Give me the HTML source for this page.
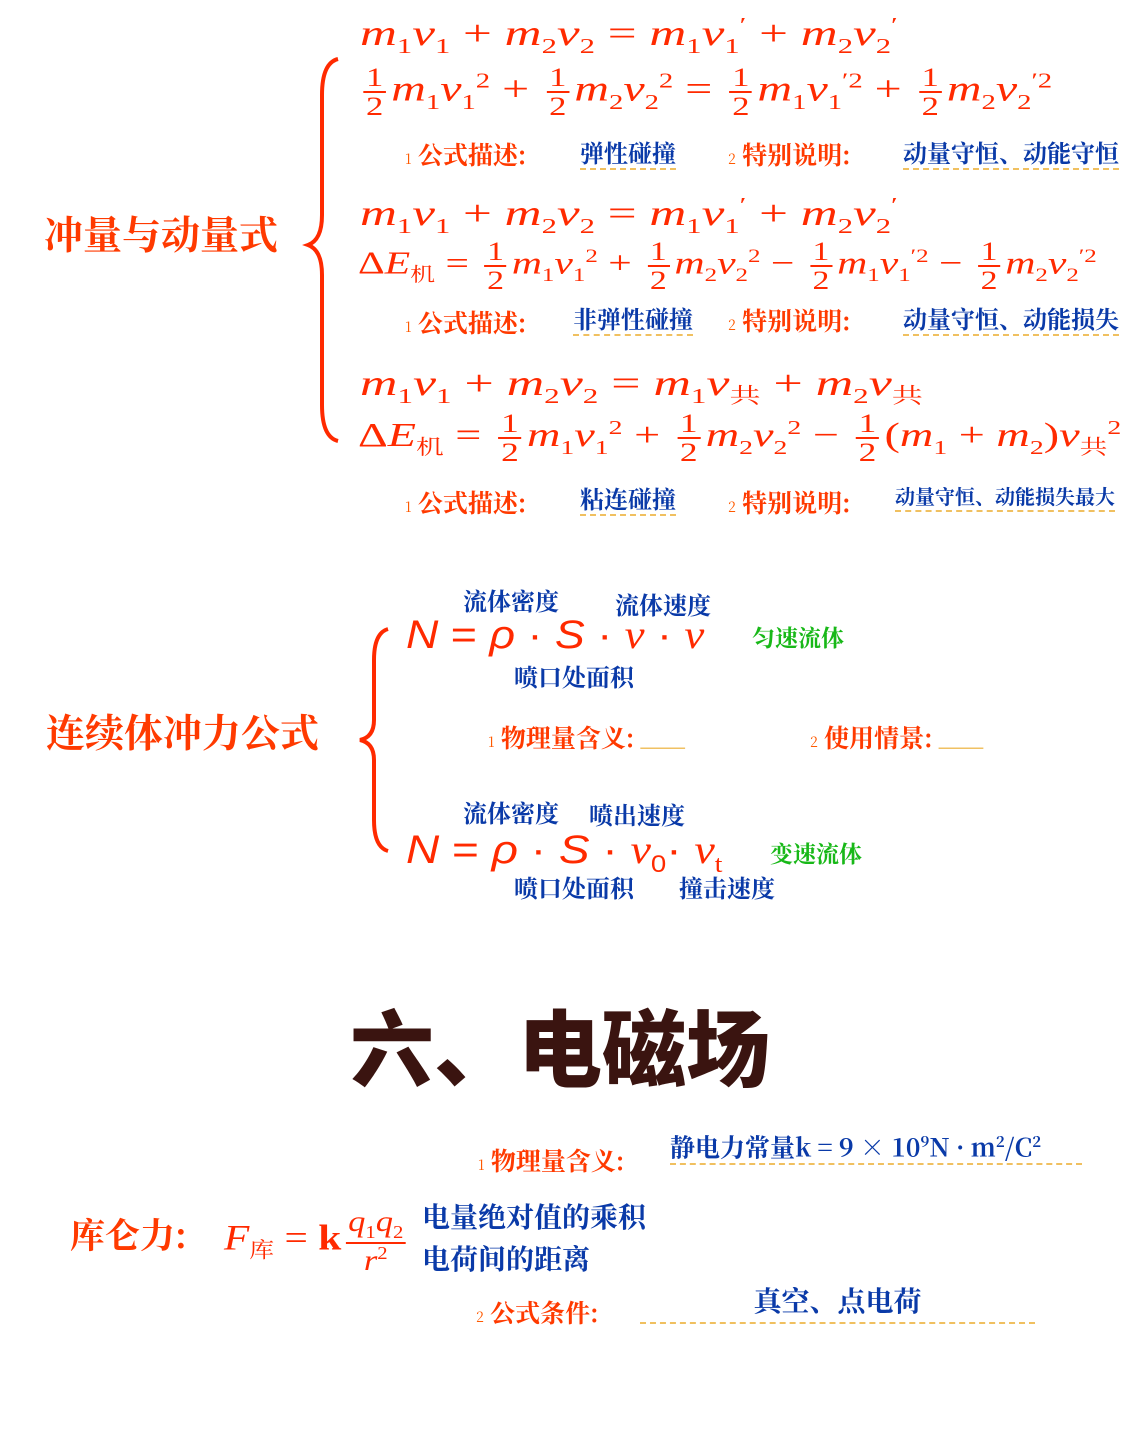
<!DOCTYPE html>
<html><head><meta charset="utf-8"><style>
body{margin:0;width:1144px;height:1431px;background:#fff;position:relative;overflow:hidden;font-family:"Liberation Serif","Noto Serif CJK SC",serif}
.a{position:absolute;white-space:nowrap;line-height:1}
.m{color:#ff2a00;font-family:"Liberation Serif","Noto Serif CJK SC",serif;font-style:italic;font-size:36px;transform-origin:0 50%}
.m .u{font-style:normal}
sub,sup{font-size:60%;font-style:normal}
.fr{display:inline-flex;flex-direction:column;vertical-align:middle;font-style:normal;font-size:26px;text-align:center;margin:0 4px;line-height:1.05}
.fr span:first-child{border-bottom:2px solid #ff2a00;padding:0 2px}
.t{color:#ff3a00;font-family:"Noto Serif CJK SC",serif;font-weight:bold;font-size:25px}
.b{color:#0a3aa8;font-family:"Noto Serif CJK SC",serif;font-weight:bold;font-size:24px}
.g{color:#18b818;font-family:"Noto Serif CJK SC",serif;font-weight:bold;font-size:23px}
.dl{border-bottom:2px dashed #f0c060;padding-bottom:4px}
.h{color:#ff3a00;font-family:"Noto Serif CJK SC",serif;font-weight:bold;font-size:39px}
.n{color:#ff2a00;font-family:"Liberation Sans",sans-serif;font-style:italic;font-size:40px;transform-origin:0 50%}
.sm{font-size:14px;color:#ff5a00;font-weight:normal}
</style></head><body>
<svg class="a" style="left:300px;top:55px" width="45" height="390"><path d="M38 4 Q22 8 22 40 L22 160 Q22 185 8 190 Q22 195 22 220 L22 350 Q22 382 38 386" fill="none" stroke="#ff2a00" stroke-width="4"/></svg>
<div class="a h" style="left:44px;top:214px">冲量与动量式</div>

<div class="a m" style="left:360px;top:15px;transform:scaleX(1.42)">m<sub>1</sub>v<sub>1</sub> <span class="u">+</span> m<sub>2</sub>v<sub>2</sub> <span class="u">=</span> m<sub>1</sub>v<sub>1</sub><sup>′</sup> <span class="u">+</span> m<sub>2</sub>v<sub>2</sub><sup>′</sup></div>
<div class="a m" style="left:358px;top:64px;transform:scaleX(1.33)"><span class="fr"><span>1</span><span>2</span></span>m<sub>1</sub>v<sub>1</sub><sup>2</sup> <span class="u">+</span> <span class="fr"><span>1</span><span>2</span></span>m<sub>2</sub>v<sub>2</sub><sup>2</sup> <span class="u">=</span> <span class="fr"><span>1</span><span>2</span></span>m<sub>1</sub>v<sub>1</sub><sup>′2</sup> <span class="u">+</span> <span class="fr"><span>1</span><span>2</span></span>m<sub>2</sub>v<sub>2</sub><sup>′2</sup></div>
<div class="a t" style="left:405px;top:142px"><span class="sm">1</span> 公式描述:</div>
<div class="a b dl" style="left:580px;top:140px">弹性碰撞 </div>
<div class="a t" style="left:728px;top:142px"><span class="sm">2</span> 特别说明:</div>
<div class="a b dl" style="left:903px;top:140px">动量守恒、动能守恒</div>

<div class="a m" style="left:360px;top:195px;transform:scaleX(1.42)">m<sub>1</sub>v<sub>1</sub> <span class="u">+</span> m<sub>2</sub>v<sub>2</sub> <span class="u">=</span> m<sub>1</sub>v<sub>1</sub><sup>′</sup> <span class="u">+</span> m<sub>2</sub>v<sub>2</sub><sup>′</sup></div>
<div class="a m" style="left:358px;top:238px;font-size:32px;transform:scaleX(1.3)"><span class="u">Δ</span>E<sub class="u">机</sub> <span class="u">=</span> <span class="fr"><span>1</span><span>2</span></span>m<sub>1</sub>v<sub>1</sub><sup>2</sup> <span class="u">+</span> <span class="fr"><span>1</span><span>2</span></span>m<sub>2</sub>v<sub>2</sub><sup>2</sup> <span class="u">−</span> <span class="fr"><span>1</span><span>2</span></span>m<sub>1</sub>v<sub>1</sub><sup>′2</sup> <span class="u">−</span> <span class="fr"><span>1</span><span>2</span></span>m<sub>2</sub>v<sub>2</sub><sup>′2</sup></div>
<div class="a t" style="left:405px;top:310px"><span class="sm">1</span> 公式描述:</div>
<div class="a b dl" style="left:573px;top:306px">非弹性碰撞</div>
<div class="a t" style="left:728px;top:308px"><span class="sm">2</span> 特别说明:</div>
<div class="a b dl" style="left:903px;top:306px">动量守恒、动能损失</div>

<div class="a m" style="left:360px;top:365px;transform:scaleX(1.44)">m<sub>1</sub>v<sub>1</sub> <span class="u">+</span> m<sub>2</sub>v<sub>2</sub> <span class="u">=</span> m<sub>1</sub>v<sub class="u">共</sub> <span class="u">+</span> m<sub>2</sub>v<sub class="u">共</sub></div>
<div class="a m" style="left:358px;top:410px;font-size:34px;transform:scaleX(1.36)"><span class="u">Δ</span>E<sub class="u">机</sub> <span class="u">=</span> <span class="fr"><span>1</span><span>2</span></span>m<sub>1</sub>v<sub>1</sub><sup>2</sup> <span class="u">+</span> <span class="fr"><span>1</span><span>2</span></span>m<sub>2</sub>v<sub>2</sub><sup>2</sup> <span class="u">−</span> <span class="fr"><span>1</span><span>2</span></span><span class="u">(</span>m<sub>1</sub> <span class="u">+</span> m<sub>2</sub><span class="u">)</span>v<sub class="u">共</sub><sup>2</sup></div>
<div class="a t" style="left:405px;top:490px"><span class="sm">1</span> 公式描述:</div>
<div class="a b dl" style="left:580px;top:486px">粘连碰撞 </div>
<div class="a t" style="left:728px;top:490px"><span class="sm">2</span> 特别说明:</div>
<div class="a b dl" style="left:895px;top:486px;font-size:20px">动量守恒、动能损失最大</div>

<svg class="a" style="left:352px;top:625px" width="45" height="230"><path d="M36 4 Q22 8 22 35 L22 95 Q22 112 8 115 Q22 118 22 135 L22 195 Q22 222 36 226" fill="none" stroke="#ff2a00" stroke-width="4"/></svg>
<div class="a h" style="left:46px;top:712px">连续体冲力公式</div>
<div class="a b" style="left:463px;top:588px">流体密度</div>
<div class="a b" style="left:615px;top:592px">流体速度</div>
<div class="a n" style="left:406px;top:615px;transform:scaleX(1.12)">N <span style="font-style:normal">=</span> ρ <span style="font-style:normal">·</span> S <span style="font-style:normal">·</span> <span style="font-family:'Liberation Serif'">v</span> <span style="font-style:normal">·</span> <span style="font-family:'Liberation Serif'">v</span></div>
<div class="a g" style="left:752px;top:625px">匀速流体</div>
<div class="a b" style="left:514px;top:664px">喷口处面积</div>
<div class="a t" style="left:488px;top:725px"><span class="sm">1</span> 物理量含义: <span style="color:#f0c060">___</span></div>
<div class="a t" style="left:810px;top:725px"><span class="sm">2</span> 使用情景: <span style="color:#f0c060">___</span></div>
<div class="a b" style="left:463px;top:800px">流体密度</div>
<div class="a b" style="left:589px;top:802px">喷出速度</div>
<div class="a n" style="left:406px;top:830px;transform:scaleX(1.15)">N <span style="font-style:normal">=</span> ρ <span style="font-style:normal">·</span> S <span style="font-style:normal">·</span> <span style="font-family:'Liberation Serif'">v</span><sub style="font-style:normal">0</sub><span style="font-style:normal">·</span> <span style="font-family:'Liberation Serif'">v</span><sub style="font-family:'Liberation Serif'">t</sub></div>
<div class="a g" style="left:770px;top:841px">变速流体</div>
<div class="a b" style="left:514px;top:875px">喷口处面积</div>
<div class="a b" style="left:679px;top:875px">撞击速度</div>

<div class="a" style="left:350px;top:1003px;font-family:'Noto Sans CJK SC',sans-serif;font-weight:900;font-size:84px;color:#3a1410">六、电磁场</div>

<div class="a t" style="left:478px;top:1148px"><span class="sm">1</span> 物理量含义:</div>
<div class="a b dl" style="left:670px;top:1134px;width:412px;font-size:25px">静电力常量k = 9 × 10<sup>9</sup>N · m<sup>2</sup>/C<sup>2</sup></div>
<div class="a h" style="left:70px;top:1217px;font-size:35px">库仑力:</div>
<div class="a m" style="left:224px;top:1206px;font-size:36px;transform:scaleX(1.15)">F<sub class="u">库</sub> <span class="u">=</span> <span class="u" style="font-weight:bold">k</span><span class="fr" style="font-style:italic;font-size:30px"><span>q<sub>1</sub>q<sub>2</sub></span><span>r<sup>2</sup></span></span></div>
<div class="a b" style="left:422px;top:1202px;font-size:28px">电量绝对值的乘积</div>
<div class="a b" style="left:422px;top:1244px;font-size:28px">电荷间的距离</div>
<div class="a t" style="left:476px;top:1300px"><span class="sm">2</span> 公式条件:</div>
<div class="a b" style="left:640px;top:1286px;width:395px;border-bottom:2px dashed #f0c060;padding-bottom:8px;text-align:center;font-size:28px">真空、点电荷</div>
</body></html>
